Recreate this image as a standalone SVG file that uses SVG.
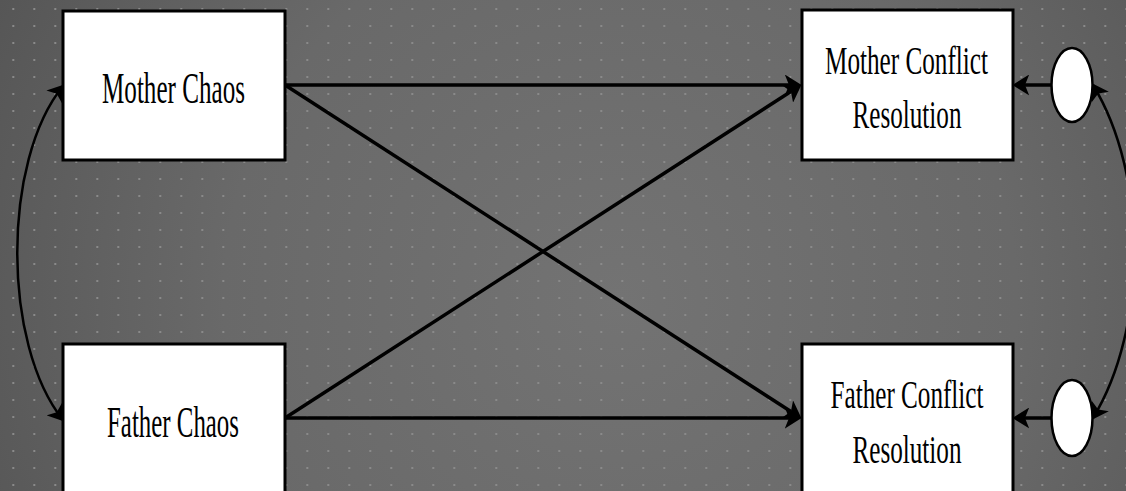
<svg xmlns="http://www.w3.org/2000/svg" width="1126" height="491" viewBox="0 0 1126 491">
  <style>
    .box { fill: #ffffff; stroke: #000000; stroke-width: 3; }
    .ell { fill: #ffffff; stroke: #000000; stroke-width: 2.5; }
    .lbl { font-family: "Liberation Serif", "Times New Roman", serif; fill: #000000; text-anchor: middle; }
    .ln { stroke: #000000; stroke-width: 3.5; fill: none; }
    .cv { stroke: #000000; stroke-width: 2.5; fill: none; }
  </style>
  <defs>
    <radialGradient id="bg" gradientUnits="userSpaceOnUse" cx="620" cy="300" r="720">
      <stop offset="0" stop-color="#737373"/>
      <stop offset="0.55" stop-color="#696969"/>
      <stop offset="1" stop-color="#545454"/>
    </radialGradient>
    <pattern id="dots" patternUnits="userSpaceOnUse" x="12.3" y="8" width="21" height="17">
      <rect x="0" y="0" width="2" height="2" fill="#8a8a8a"/>
    </pattern>
    <marker id="ah" viewBox="0 0 16 20" refX="4" refY="10" markerWidth="17" markerHeight="21" markerUnits="userSpaceOnUse" orient="auto">
      <path d="M0,0 L16,10 L0,20 L4,10 z" fill="#000000"/>
    </marker>
    <marker id="ahc" viewBox="0 0 16 20" refX="14" refY="10" markerWidth="16" markerHeight="20" markerUnits="userSpaceOnUse" orient="auto-start-reverse">
      <path d="M0,0 L16,10 L0,20 L4,10 z" fill="#000000"/>
    </marker>
  </defs>

  <rect x="0" y="0" width="1126" height="491" fill="url(#bg)"/>
  <rect x="0" y="0" width="1126" height="491" fill="url(#dots)"/>

  <g id="connectors">
    <line class="ln" x1="285" y1="85" x2="789" y2="85" marker-end="url(#ah)"/>
    <line class="ln" x1="285" y1="85" x2="790.9" y2="411.5" marker-end="url(#ah)"/>
    <line class="ln" x1="285" y1="418" x2="790.9" y2="91.5" marker-end="url(#ah)"/>
    <line class="ln" x1="285" y1="418" x2="789" y2="418" marker-end="url(#ah)"/>
    <line class="ln" x1="1052" y1="85" x2="1025" y2="85" marker-end="url(#ah)"/>
    <line class="ln" x1="1052" y1="418" x2="1025" y2="418" marker-end="url(#ah)"/>
    <path class="cv" d="M63,86 C2,161 2,344 63,420" marker-start="url(#ahc)" marker-end="url(#ahc)"/>
    <path class="cv" d="M1093,85 C1148,175 1148,328 1093,418" marker-start="url(#ahc)" marker-end="url(#ahc)"/>
  </g>

  <g id="mother-chaos">
    <rect class="box" x="63" y="11" width="222" height="149"/>
    <text class="lbl" x="173.5" y="103" font-size="45" textLength="143" lengthAdjust="spacingAndGlyphs">Mother Chaos</text>
  </g>

  <g id="father-chaos">
    <rect class="box" x="63" y="344" width="222" height="160"/>
    <text class="lbl" x="173" y="437" font-size="44" textLength="132" lengthAdjust="spacingAndGlyphs">Father Chaos</text>
  </g>

  <g id="mother-conflict">
    <rect class="box" x="802" y="10" width="211" height="150"/>
    <text class="lbl" x="906.5" y="74" font-size="41" textLength="163" lengthAdjust="spacingAndGlyphs">Mother Conflict</text>
    <text class="lbl" x="907" y="128" font-size="41" textLength="109" lengthAdjust="spacingAndGlyphs">Resolution</text>
  </g>

  <g id="father-conflict">
    <rect class="box" x="802" y="344" width="211" height="160"/>
    <text class="lbl" x="907" y="408" font-size="40" textLength="153" lengthAdjust="spacingAndGlyphs">Father Conflict</text>
    <text class="lbl" x="907" y="463" font-size="41" textLength="109" lengthAdjust="spacingAndGlyphs">Resolution</text>
  </g>

  <g id="residual-mother">
    <ellipse class="ell" cx="1072" cy="85" rx="20.5" ry="37"/>
  </g>

  <g id="residual-father">
    <ellipse class="ell" cx="1072" cy="418" rx="20.5" ry="38"/>
  </g>
</svg>
